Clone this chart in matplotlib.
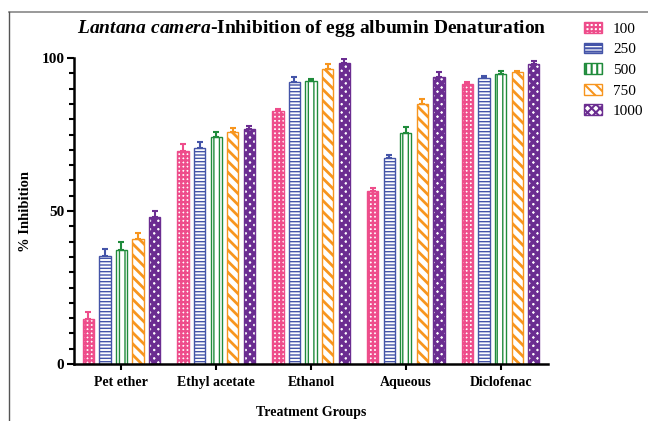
import numpy as np
import matplotlib
matplotlib.use("Agg")
import matplotlib.pyplot as plt
from matplotlib.lines import Line2D
from matplotlib.ticker import MultipleLocator

plt.rcParams['font.family'] = ['Liberation Serif', 'DejaVu Serif']
plt.rcParams['mathtext.fontset'] = 'custom'
plt.rcParams['mathtext.it'] = 'Liberation Serif:italic:bold'
plt.rcParams['mathtext.rm'] = 'Liberation Serif:bold'

groups = ["Pet ether", "Ethyl acetate", "Ethanol", "Aqueous", "Diclofenac"]
doses = ["100", "250", "500", "750", "1000"]

# % inhibition per dose across groups
inhibition = {
    "100":  [14.7, 69.6, 82.7, 56.7, 91.5],
    "250":  [35.4, 70.7, 92.1, 67.2, 93.6],
    "500":  [37.3, 74.1, 92.4, 75.6, 94.8],
    "750":  [40.7, 75.7, 96.4, 84.9, 95.3],
    "1000": [48.1, 76.7, 98.3, 93.7, 98.0],
}
errors = {
    "100":  [2.4, 2.2, 0.8, 0.9, 0.7],
    "250":  [2.2, 1.9, 1.8, 1.1, 0.4],
    "500":  [2.5, 1.8, 0.9, 1.7, 1.0],
    "750":  [2.0, 1.3, 1.6, 1.8, 0.5],
    "1000": [1.9, 1.2, 1.4, 1.6, 0.9],
}

colors = ["#EE4D8B", "#4454A8", "#1F8B3B", "#F7951E", "#6B2D91"]
hatches = ["++++", "-----", "|||", "\\\\\\", "xxxx"]
hatch_lw = [1.7, 1.0, 1.0, 2.0, 2.6]

fig = plt.figure(figsize=(6.48, 4.21), dpi=100)
ax = fig.add_axes([0.1142, 0.1354, 0.7315, 0.7268])

x = np.arange(len(groups))
step = 0.175
width = 0.12
for i, d in enumerate(doses):
    pos = x + (i - 2) * step
    vals = inhibition[d]
    err = errors[d]
    with plt.rc_context({'hatch.linewidth': hatch_lw[i]}):
        ax.bar(pos, vals, width, color="white", edgecolor=colors[i],
               hatch=hatches[i], linewidth=1.0, label=d, zorder=2)
    ax.errorbar(pos, vals, yerr=[np.zeros(len(err)), err], fmt="none",
                ecolor=colors[i], elinewidth=1.5, capsize=2.5,
                capthick=1.5, zorder=3)

ax.set_xlim(-0.5, 4.5)
ax.set_ylim(0, 100)
ax.yaxis.set_major_locator(MultipleLocator(50))
ax.yaxis.set_minor_locator(MultipleLocator(5))
ax.set_xticks(x)
ax.set_xticklabels(groups, fontsize=10, fontweight="bold")
for lab in ax.get_yticklabels():
    lab.set_fontweight("bold")
    lab.set_fontsize(11)
ax.tick_params(axis="y", which="major", length=5, width=1.5, pad=2)
ax.tick_params(axis="y", which="minor", length=3.5, width=1.5)
ax.tick_params(axis="x", which="major", length=4, width=1.5, pad=5)
for s in ["top", "right"]:
    ax.spines[s].set_visible(False)
for s in ["left", "bottom"]:
    ax.spines[s].set_linewidth(1.8)

ax.set_ylabel("% Inhibition", fontsize=10.5, fontweight="bold", labelpad=7)
ax.set_xlabel("Treatment Groups", fontsize=10, fontweight="bold", labelpad=12)

fig.text(0.481, 0.933,
         r"$\mathit{Lantana\ camera}$-Inhibition of egg albumin Denaturation",
         fontsize=14, fontweight="bold", ha="center", va="center")

with plt.rc_context({'hatch.linewidth': 1.5}):
    leg = ax.legend(loc="upper left", bbox_to_anchor=(0.892, 0.962),
                    bbox_transform=fig.transFigure, frameon=False, fontsize=11,
                    handlelength=1.2, handleheight=0.7, labelspacing=0.45,
                    handletextpad=0.7, borderaxespad=0)

# frame lines of the original figure panel
fig.add_artist(Line2D([9 / 648, 1], [1 - 12 / 421] * 2, color="#888888",
                      linewidth=1.2, transform=fig.transFigure))
fig.add_artist(Line2D([9 / 648] * 2, [0, 1 - 12 / 421], color="#555555",
                      linewidth=1.0, transform=fig.transFigure))

fig.savefig("out.png", dpi=100)
